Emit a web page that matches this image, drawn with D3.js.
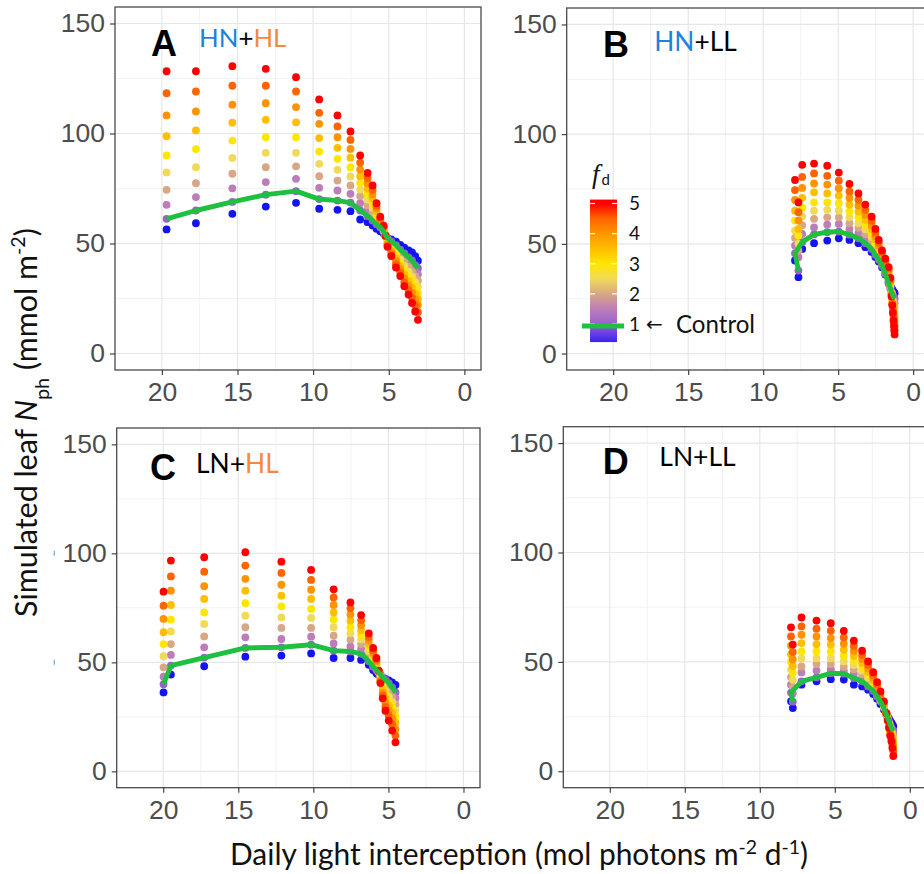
<!DOCTYPE html>
<html>
<head>
<meta charset="utf-8">
<style>
body { margin: 0; background: #fff; }
svg { display: block; }
</style>
</head>
<body>
<script src="https://d3js.org/d3.v7.min.js"></script>
<script>
// ---- data -------------------------------------------------------------
// fd levels (colour key) and axis breaks
const fdLevels = [0.5, 1, 1.5, 2, 2.5, 3, 3.5, 4, 4.5, 5];
const fdTicks = [1, 2, 3, 4, 5];
const xTicks = [20, 15, 10, 5, 0];
const xMinor = [17.5, 12.5, 7.5, 2.5];
const yTicks = [0, 50, 100, 150];
const yMinor = [25, 75, 125];

// daily light interception of each leaf layer (mol photons m-2 d-1)
// and simulated leaf Nph (mmol m-2) of that layer for fd = 0.5 ... 5
const lightA = [19.69, 17.75, 15.34, 13.13, 11.13, 9.60, 8.39, 7.53, 6.89, 6.40, 6.07, 5.81,
  5.56, 5.34, 5.21, 5.08, 4.83, 4.52, 4.24, 3.97, 3.69, 3.46, 3.25, 3.07];
const nphA = [
  [56.4, 61.2, 67.6, 74.4, 82.3, 90.0, 98.8, 108.2, 118.3, 128.3],
  [59.2, 65.0, 71.1, 77.4, 84.7, 92.9, 101.4, 110.0, 119.1, 128.3],
  [63.5, 68.9, 75.1, 81.7, 88.9, 96.8, 104.9, 113.1, 121.7, 130.6],
  [66.8, 72.2, 77.9, 84.7, 91.2, 98.3, 106.2, 113.8, 121.7, 129.4],
  [68.5, 73.8, 79.4, 85.1, 91.2, 98.3, 105.1, 112.0, 119.1, 125.6],
  [65.8, 70.2, 75.3, 80.6, 86.2, 91.8, 97.9, 104.4, 109.4, 115.5],
  [65.3, 69.5, 74.1, 78.6, 83.5, 88.5, 93.5, 98.3, 103.2, 108.2],
  [64.7, 68.6, 72.6, 76.4, 80.5, 84.7, 89.0, 93.0, 97.1, 100.9],
  [60.9, 65.0, 68.3, 71.5, 74.5, 77.6, 80.6, 83.6, 86.8, 90.0],
  [59.7, 62.5, 65.0, 67.4, 69.9, 72.4, 74.9, 77.3, 79.7, 82.1],
  [58.2, 60.5, 62.4, 64.3, 66.3, 68.3, 70.3, 72.3, 74.4, 76.4],
  [56.7, 58.7, 59.9, 61.1, 62.3, 63.5, 64.7, 65.9, 67.1, 68.3],
  [55.6, 57.4, 57.9, 58.4, 58.9, 59.4, 59.9, 60.6, 61.4, 62.2],
  [54.5, 55.5, 55.8, 56.1, 56.4, 56.7, 57.0, 57.3, 57.7, 58.1],
  [53.6, 53.8, 53.8, 53.7, 53.7, 53.6, 53.6, 53.6, 53.5, 53.5],
  [52.6, 52.5, 52.0, 51.5, 51.0, 50.5, 50.0, 49.5, 49.0, 48.5],
  [51.9, 51.0, 50.1, 49.2, 48.3, 47.4, 46.6, 45.8, 45.0, 44.3],
  [50.8, 49.3, 48.0, 46.8, 45.6, 44.4, 43.2, 42.0, 40.6, 39.1],
  [49.4, 47.2, 45.7, 44.2, 42.7, 41.2, 39.7, 38.2, 36.7, 35.2],
  [48.1, 45.5, 43.6, 41.7, 39.8, 37.9, 36.0, 34.2, 32.4, 30.6],
  [46.9, 43.7, 41.5, 39.4, 37.2, 35.0, 32.9, 30.8, 28.8, 26.8],
  [45.9, 42.3, 39.8, 37.3, 34.9, 32.5, 30.1, 27.7, 25.3, 23.0],
  [44.2, 40.2, 37.7, 35.0, 32.4, 29.8, 27.2, 24.6, 21.9, 19.1],
  [42.2, 38.8, 36.0, 33.2, 30.4, 27.6, 24.8, 22.0, 18.8, 15.3]
];

const lightB = [7.65, 7.88, 7.40, 6.61, 5.73, 4.96, 4.25, 3.65, 3.19, 2.77, 2.52, 2.30,
  2.08, 1.86, 1.64, 1.52, 1.44, 1.39, 1.35, 1.31, 1.28, 1.26, 1.24];
const nphB = [
  [34.8, 37.8, 43.9, 47.0, 50.0, 53.8, 56.8, 60.6, 64.4, 68.9],
  [42.4, 45.7, 49.2, 52.7, 56.0, 60.6, 65.1, 70.0, 74.5, 79.1],
  [47.7, 50.8, 54.5, 58.5, 62.5, 66.5, 71.0, 75.5, 80.5, 86.0],
  [50.3, 54.3, 57.5, 61.4, 65.1, 68.9, 73.5, 77.5, 82.1, 86.6],
  [51.5, 55.3, 58.8, 62.1, 65.5, 68.9, 73.0, 77.0, 81.0, 85.6],
  [52.5, 55.6, 59.1, 62.1, 65.1, 68.5, 72.0, 75.3, 78.8, 82.5],
  [51.8, 54.2, 56.8, 59.4, 62.1, 64.8, 67.9, 70.9, 73.9, 77.3],
  [50.3, 52.5, 55.0, 57.3, 59.5, 62.1, 64.7, 67.4, 70.1, 73.0],
  [48.5, 50.3, 52.5, 54.5, 56.6, 58.8, 60.9, 63.2, 65.5, 67.9],
  [46.2, 47.7, 49.5, 51.3, 53.1, 55.0, 56.8, 58.6, 60.5, 62.4],
  [44.0, 45.0, 46.3, 47.7, 49.1, 50.5, 52.0, 53.5, 55.1, 56.8],
  [41.9, 42.7, 43.7, 44.8, 45.9, 47.1, 48.2, 49.4, 50.6, 51.8],
  [39.3, 40.0, 40.8, 41.6, 42.4, 43.2, 44.1, 45.0, 46.0, 47.0],
  [36.0, 36.4, 37.1, 37.9, 38.6, 39.4, 40.3, 41.2, 42.2, 43.2],
  [32.5, 31.8, 33.0, 34.0, 35.0, 36.0, 37.0, 38.0, 38.8, 39.4],
  [31.0, 29.8, 30.3, 30.8, 31.4, 32.0, 32.6, 33.2, 33.8, 34.5],
  [29.8, 28.0, 27.7, 27.6, 27.5, 27.4, 27.2, 26.9, 26.5, 26.0],
  [29.0, 27.0, 26.1, 25.4, 24.7, 24.0, 23.4, 22.8, 22.5, 22.0],
  [28.5, 26.4, 25.1, 24.0, 23.0, 21.9, 20.9, 20.0, 19.2, 18.5],
  [28.1, 25.8, 24.3, 22.9, 21.5, 20.1, 18.7, 17.4, 16.2, 15.0],
  [27.8, 25.4, 23.7, 22.0, 20.3, 18.6, 17.0, 15.4, 13.9, 12.5],
  [27.6, 25.2, 23.3, 21.4, 19.5, 17.6, 15.8, 14.0, 12.2, 10.5],
  [27.4, 25.0, 22.9, 20.8, 18.7, 16.6, 14.6, 12.6, 10.6, 8.7]
];

const lightC = [19.98, 19.49, 17.27, 14.53, 12.13, 10.15, 8.65, 7.53, 6.82, 6.31, 6.02, 5.80,
  5.65, 5.53, 5.38, 5.20, 4.98, 4.75, 4.53];
const nphC = [
  [36.2, 40.0, 43.4, 47.7, 52.8, 58.4, 63.8, 69.9, 76.0, 82.4],
  [44.4, 48.5, 53.4, 58.4, 64.2, 69.6, 76.3, 82.9, 89.4, 96.7],
  [48.2, 52.2, 56.9, 61.9, 67.6, 72.9, 79.1, 84.9, 91.6, 98.2],
  [52.6, 56.6, 61.5, 66.1, 71.4, 77.1, 82.9, 88.3, 94.4, 100.5],
  [53.1, 56.9, 60.7, 65.8, 70.6, 75.7, 80.6, 85.6, 91.0, 96.2],
  [54.1, 58.1, 61.8, 65.8, 70.4, 74.5, 79.1, 83.3, 87.8, 92.4],
  [52.0, 55.4, 58.7, 62.2, 66.1, 69.6, 72.9, 76.3, 79.8, 83.5],
  [52.0, 55.0, 57.3, 60.4, 63.3, 66.1, 69.1, 71.9, 74.8, 77.5],
  [51.1, 53.9, 56.2, 58.4, 60.5, 62.6, 64.8, 67.0, 69.3, 71.7],
  [48.9, 50.5, 52.1, 53.7, 55.2, 56.8, 58.4, 60.0, 61.6, 63.3],
  [46.5, 48.0, 49.2, 50.3, 51.4, 52.5, 53.5, 54.5, 55.5, 56.6],
  [45.0, 46.5, 47.1, 47.8, 48.5, 49.2, 49.9, 50.6, 51.3, 52.0],
  [44.2, 45.5, 45.5, 45.6, 45.7, 45.8, 45.9, 46.0, 46.1, 46.2],
  [43.8, 44.5, 44.0, 43.5, 43.0, 42.5, 42.0, 41.5, 41.0, 40.5],
  [43.0, 43.1, 42.0, 40.9, 39.7, 38.5, 37.3, 36.0, 34.8, 33.5],
  [42.4, 42.0, 40.3, 38.6, 36.8, 35.0, 33.2, 31.4, 29.6, 27.8],
  [41.7, 40.5, 38.5, 36.4, 34.3, 32.2, 30.0, 27.8, 25.6, 23.3],
  [40.8, 38.5, 36.3, 34.0, 31.7, 29.3, 26.9, 24.3, 21.6, 18.7],
  [39.6, 36.2, 33.5, 30.8, 28.0, 25.2, 22.3, 19.4, 16.4, 13.3]
];

const lightD = [7.80, 7.92, 7.22, 6.22, 5.27, 4.40, 3.73, 3.18, 2.78, 2.44, 2.18, 1.96,
  1.73, 1.56, 1.47, 1.38, 1.30, 1.22, 1.16, 1.10];
const nphD = [
  [28.9, 31.8, 35.5, 38.6, 41.8, 45.0, 48.0, 51.1, 54.5, 57.9],
  [32.0, 36.0, 39.6, 43.0, 46.5, 50.0, 53.5, 57.4, 61.6, 65.8],
  [39.6, 41.1, 45.2, 47.9, 51.5, 54.8, 58.6, 62.4, 66.2, 70.3],
  [41.1, 42.9, 46.1, 49.0, 51.7, 54.8, 58.1, 61.6, 65.2, 68.9],
  [42.1, 44.8, 46.6, 49.0, 51.7, 54.8, 57.9, 60.9, 64.2, 67.7],
  [41.9, 44.6, 45.9, 47.8, 50.2, 52.8, 55.6, 58.3, 61.2, 64.2],
  [39.6, 42.6, 44.6, 46.6, 48.6, 50.6, 52.8, 55.0, 57.3, 59.7],
  [38.8, 41.1, 42.8, 44.4, 46.0, 47.7, 49.5, 51.3, 53.2, 55.1],
  [37.3, 38.8, 40.1, 41.4, 42.7, 44.1, 45.5, 47.0, 48.6, 50.2],
  [35.3, 36.8, 37.7, 38.6, 39.5, 40.5, 41.6, 42.8, 44.0, 45.3],
  [33.2, 34.2, 34.8, 35.5, 36.2, 37.0, 37.9, 38.8, 39.8, 40.8],
  [30.7, 32.0, 32.4, 32.8, 33.3, 33.8, 34.4, 35.1, 35.8, 36.5],
  [28.2, 28.9, 29.2, 29.5, 29.8, 30.1, 30.5, 31.0, 31.5, 32.0],
  [26.2, 25.9, 25.9, 26.0, 26.1, 26.2, 26.3, 26.4, 26.5, 26.6],
  [25.1, 24.4, 24.2, 24.0, 23.8, 23.7, 23.6, 23.5, 23.4, 23.2],
  [24.0, 22.8, 22.4, 22.0, 21.6, 21.2, 20.9, 20.5, 20.2, 19.8],
  [23.0, 21.2, 20.6, 19.9, 19.3, 18.6, 18.0, 17.4, 16.8, 16.2],
  [22.1, 19.8, 19.2, 18.5, 17.8, 17.1, 16.3, 15.5, 14.6, 13.7],
  [21.3, 18.9, 18.0, 17.1, 16.1, 15.1, 14.1, 13.0, 11.8, 10.6],
  [20.6, 18.3, 17.2, 16.0, 14.8, 13.5, 12.1, 10.7, 9.2, 7.0]
];

// panel titles: treatment codes
const titleA = ["HN", "+", "HL"];
const titleB = ["HN", "+", "LL"];
const titleC = ["LN", "+", "HL"];
const titleD = ["LN", "+", "LL"];

// ---- styling ----------------------------------------------------------
const dotColors = ["#1414f2", "#9a62cf", "#bd7db9", "#d8a785", "#f0da5a",
  "#ffe600", "#ffbe00", "#ff9400", "#ff6400", "#ff0000"];
const codeColors = {HN: "#1c82e0", HL: "#f28b3f"};
const green = "#1fbf3f";
const calibri = "Lato, 'Noto Sans', sans-serif";

const W = 924, H = 874;
const svg = d3.select("body").append("svg")
  .attr("width", W).attr("height", H)
  .style("font-family", "'Liberation Sans', Arial, sans-serif");
svg.append("rect").attr("width", W).attr("height", H).attr("fill", "#fff");

// scale the font size of a text so that it has the wanted width
function fitText(sel, target) {
  const w = sel.node().getComputedTextLength();
  const fs = parseFloat(sel.attr("font-size"));
  sel.attr("font-size", (fs * target / w).toFixed(2));
}

const panels = [
  {id: "A", light: lightA, nph: nphA, title: titleA, left: 115, top: 7, width: 366, height: 363,
    tag: [151, 56], sub: [199, 47.3], subW: 87.4},
  {id: "B", light: lightB, nph: nphB, title: titleB, left: 566.7, top: 8, width: 363, height: 362,
    tag: [603, 56.7], sub: [654.3, 50.7], subW: 82.4},
  {id: "C", light: lightC, nph: nphC, title: titleC, left: 116.7, top: 428, width: 363.3, height: 359.7,
    tag: [150, 480], sub: [196, 473.3], subW: 82.7},
  {id: "D", light: lightD, nph: nphD, title: titleD, left: 563.3, top: 426.7, width: 363, height: 361,
    tag: [602.7, 474], sub: [659.3, 466], subW: 76.4}
];

panels.forEach(p => {
  const x = d3.scaleLinear().domain([23.1, -1.1]).range([p.left, p.left + p.width]);
  const y = d3.scaleLinear().domain([-7.5, 157.5]).range([p.top + p.height, p.top]);
  p.x = x; p.y = y;
  const g = svg.append("g");

  // grid
  g.selectAll(".vminor").data(xMinor).join("line")
    .attr("x1", d => x(d)).attr("x2", d => x(d))
    .attr("y1", p.top).attr("y2", p.top + p.height)
    .attr("stroke", "#f0f0f0").attr("stroke-width", 0.9);
  g.selectAll(".hminor").data(yMinor).join("line")
    .attr("y1", d => y(d)).attr("y2", d => y(d))
    .attr("x1", p.left).attr("x2", p.left + p.width)
    .attr("stroke", "#f0f0f0").attr("stroke-width", 0.9);
  g.selectAll(".vmajor").data(xTicks).join("line")
    .attr("x1", d => x(d)).attr("x2", d => x(d))
    .attr("y1", p.top).attr("y2", p.top + p.height)
    .attr("stroke", "#e6e6e6").attr("stroke-width", 1.2);
  g.selectAll(".hmajor").data(yTicks).join("line")
    .attr("y1", d => y(d)).attr("y2", d => y(d))
    .attr("x1", p.left).attr("x2", p.left + p.width)
    .attr("stroke", "#e6e6e6").attr("stroke-width", 1.2);

  // points, drawn level by level so fd = 5 ends on top
  const pts = [];
  fdLevels.forEach((fd, j) => {
    p.light.forEach((l, i) => pts.push({l: l, n: p.nph[i][j], j: j}));
  });
  g.append("g").selectAll("circle").data(pts).join("circle")
    .attr("cx", d => x(d.l)).attr("cy", d => y(d.n))
    .attr("r", 3.9)
    .attr("fill", d => dotColors[d.j]);

  // control (fd = 1) line
  const line = d3.line().x(d => x(d[0])).y(d => y(d[1]));
  g.append("path")
    .datum(p.light.map((l, i) => [l, p.nph[i][1]]))
    .attr("d", line)
    .attr("fill", "none").attr("stroke", green)
    .attr("stroke-width", 4.9).attr("stroke-linejoin", "round").attr("stroke-linecap", "butt");

  // border
  g.append("rect")
    .attr("x", p.left).attr("y", p.top).attr("width", p.width).attr("height", p.height)
    .attr("fill", "none").attr("stroke", "#4a4a4a").attr("stroke-width", 1.3);

  // axes
  const ax = g.append("g").attr("transform", `translate(0,${p.top + p.height})`)
    .call(d3.axisBottom(x).tickValues(xTicks).tickSize(5).tickPadding(7.5).tickFormat(d3.format("d")));
  const ay = g.append("g").attr("transform", `translate(${p.left},0)`)
    .call(d3.axisLeft(y).tickValues(yTicks).tickSize(5).tickPadding(5).tickFormat(d3.format("d")));
  [ax, ay].forEach(a => {
    a.select(".domain").remove();
    a.selectAll(".tick line").attr("stroke", "#333").attr("stroke-width", 1.1);
    a.selectAll(".tick text")
      .attr("fill", "#4d4d4d")
      .style("font-family", "'Liberation Sans', Arial, sans-serif")
      .style("font-size", "26.5px");
  });

  // panel tag and treatment
  g.append("text")
    .attr("x", p.tag[0]).attr("y", p.tag[1])
    .attr("font-size", 36).attr("font-weight", "bold").attr("fill", "#000")
    .text(p.id);
  const st = g.append("text")
    .attr("x", p.sub[0]).attr("y", p.sub[1])
    .attr("font-size", 28).style("font-family", calibri);
  st.selectAll("tspan").data(p.title).join("tspan")
    .attr("fill", d => codeColors[d] || "#000")
    .text(d => d);
  fitText(st, p.subW);
});

// small blue marks left of panel C
const pc = panels[2];
svg.selectAll(".bluemark").data([100, 50]).join("line")
  .attr("x1", 54.3).attr("x2", 54.3)
  .attr("y1", d => pc.y(d) - 2.5).attr("y2", d => pc.y(d) + 2.5)
  .attr("stroke", "#6fa8dc").attr("stroke-width", 1.2);

// ---- fd colour bar legend (inside panel B) ----------------------------
const fdY = d3.scaleLinear().domain([1, 5]).range([324, 203.5]);
const barTop = 5.13, barBot = 0.4;
const grad = svg.append("defs").append("linearGradient")
  .attr("id", "fdgrad").attr("x1", 0).attr("y1", 1).attr("x2", 0).attr("y2", 0);
const stops = [[barBot, "#3a22f8"]].concat(fdLevels.map((f, j) => [f, dotColors[j]]), [[barTop, "#ff0000"]]);
stops[1][1] = "#4a2cf0";
grad.selectAll("stop").data(stops).join("stop")
  .attr("offset", d => (d[0] - barBot) / (barTop - barBot))
  .attr("stop-color", d => d[1]);
svg.append("rect")
  .attr("x", 590).attr("y", fdY(barTop)).attr("width", 27)
  .attr("height", fdY(barBot) - fdY(barTop))
  .attr("fill", "url(#fdgrad)");
svg.selectAll(".bartick").data(fdTicks.flatMap(t => [[t, 590, 595], [t, 612, 617]])).join("line")
  .attr("x1", d => d[1]).attr("x2", d => d[2])
  .attr("y1", d => fdY(d[0])).attr("y2", d => fdY(d[0]))
  .attr("stroke", "#fff").attr("stroke-width", 1.2);
svg.append("line")
  .attr("x1", 582).attr("x2", 624).attr("y1", fdY(1) + 2).attr("y2", fdY(1) + 2)
  .attr("stroke", green).attr("stroke-width", 4.9);
svg.selectAll(".fdlab").data(fdTicks).join("text")
  .attr("x", 629).attr("y", d => fdY(d)).attr("dy", "0.36em")
  .attr("font-size", 19).style("font-family", calibri).attr("fill", "#111")
  .text(d => d);
svg.append("text").attr("x", 646).attr("y", 331)
  .attr("font-size", 20).style("font-family", "'DejaVu Sans', sans-serif").attr("fill", "#111")
  .text("\u2190");
const ctl = svg.append("text").attr("x", 676).attr("y", 333)
  .attr("font-size", 24).style("font-family", calibri).attr("fill", "#111")
  .text("Control");
fitText(ctl, 79);
const fdt = svg.append("text").attr("x", 592).attr("y", 183).attr("fill", "#111");
fdt.append("tspan").text("f")
  .style("font-family", "'Liberation Serif', serif").attr("font-style", "italic").attr("font-size", 27);
fdt.append("tspan").text("d").attr("dx", 2).attr("dy", 2)
  .style("font-family", calibri).attr("font-size", 15);

// ---- axis titles -------------------------------------------------------
const yt = svg.append("text")
  .attr("transform", "translate(37,422.5) rotate(-90)")
  .attr("text-anchor", "middle").attr("font-size", 30)
  .style("font-family", calibri).attr("fill", "#111");
yt.append("tspan").text("Simulated leaf ");
yt.append("tspan").text("N").attr("font-style", "italic");
yt.append("tspan").text("ph").attr("font-size", "0.65em").attr("baseline-shift", "sub");
yt.append("tspan").text(" (mmol m");
yt.append("tspan").text("-2").attr("font-size", "0.65em").attr("baseline-shift", "super");
yt.append("tspan").text(")");
fitText(yt, 389);

const xt = svg.append("text")
  .attr("x", 230).attr("y", 865)
  .attr("font-size", 27).style("font-family", calibri).attr("fill", "#111");
xt.append("tspan").text("Daily light interception (mol photons m");
xt.append("tspan").text("-2").attr("font-size", "0.65em").attr("baseline-shift", "super");
xt.append("tspan").text(" d");
xt.append("tspan").text("-1").attr("font-size", "0.65em").attr("baseline-shift", "super");
xt.append("tspan").text(")");
fitText(xt, 578);
</script>
</body>
</html>
